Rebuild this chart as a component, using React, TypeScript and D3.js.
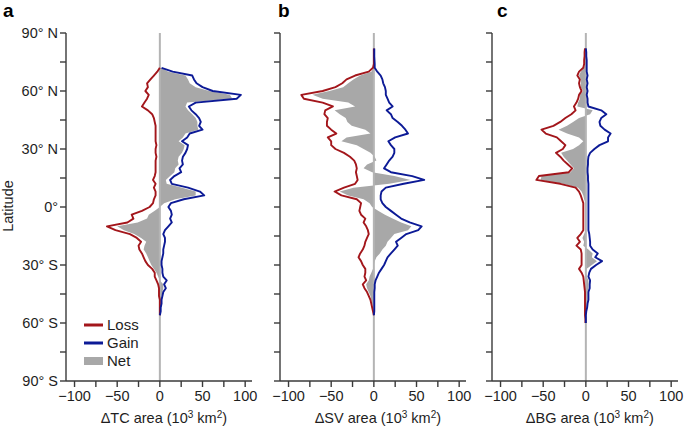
import React from "react";
import * as d3 from "d3";

// ---------- data (10^3 km^2 per latitude band) ----------
const LAT_A = [72,70,68,66,64,62,60,58,56,54,52,50,48,46,44,42,40,38,36,34,32,30,28,26,24,22,20,18,16,14,12,10,8,6,4,2,0,-2,-4,-6,-8,-10,-12,-14,-16,-18,-20,-22,-24,-26,-28,-30,-32,-34,-36,-38,-40,-42,-44,-46,-48,-50,-52,-54,-56];
const LOSS_A = [0,-3,-7,-11,-15,-14,-17,-13,-15,-18,-21,-14,-9,-7,-6,-5,-5,-5,-5,-5,-4,-5,-5,-4,-5,-5,-5,-5,-6,-8,-5,-7,-5,-5,-7,-8,-12,-21,-33,-31,-38,-62,-52,-35,-27,-22,-25,-24,-21,-19,-17,-14,-9,-6,-6,-4,-2,-1,-1,-1,0,0,0,0,0];
const GAIN_A = [2,15,38,40,43,50,62,95,90,42,34,37,42,46,48,46,50,35,32,26,33,32,30,27,26,27,23,25,17,12,14,33,47,52,28,13,10,13,14,12,14,10,6,4,6,6,5,4,4,3,2,2,3,3,4,8,5,7,4,3,2,2,1,1,0];
const NET_A = [1,10,30,33,35,42,58,82,85,32,30,33,38,42,44,44,45,30,27,22,29,28,26,22,21,22,18,17,12,7,8,26,42,42,18,5,0,-6,-13,-15,-26,-50,-42,-30,-22,-16,-18,-19,-16,-14,-12,-10,-7,-4,-2,0,4,4,3,2,1,1,1,0,0];

const LAT_B = [82,78,74,72,70,68,66,64,62,60,58,56,54,52,50,48,46,44,42,40,38,36,34,32,30,28,26,24,22,20,18,16,14,12,10,8,6,4,2,0,-2,-4,-6,-8,-10,-12,-14,-16,-18,-20,-22,-24,-26,-28,-30,-32,-34,-36,-38,-40,-42,-44,-46,-48,-50,-52,-54,-56];
const LOSS_B = [0,0,0,-1,-6,-22,-32,-37,-45,-60,-85,-82,-60,-48,-57,-58,-54,-55,-55,-50,-44,-54,-50,-50,-45,-35,-28,-23,-21,-20,-21,-20,-19,-22,-35,-46,-38,-20,-15,-16,-17,-15,-10,-12,-9,-7,-6,-8,-10,-11,-13,-16,-18,-15,-13,-10,-10,-11,-9,-13,-11,-8,-6,-4,-3,-2,-1,0];
const GAIN_B = [0.5,0.5,1,1,4,8,10,11,13,14,14,16,18,22,15,20,22,28,33,37,40,25,17,20,24,24,22,18,15,12,20,45,59,35,14,9,8,8,10,14,20,26,32,42,56,52,38,32,26,28,24,20,16,14,12,9,6,4,2,1,1,0.5,0.5,0.5,0.5,0.5,0.5,0];
const NET_B = [0,0,0,0,-3,-16,-24,-30,-36,-52,-72,-60,-30,-22,-46,-40,-33,-31,-26,-10,-4,-32,-38,-20,-12,-4,1,3,-8,-12,-2,24,43,18,-24,-40,-30,-12,-5,-2,5,13,22,32,44,40,24,20,16,14,10,7,3,1,0,-1,-3,-5,-6,-9,-8,-6,-4,-3,-2,-1,0,0];

const LAT_C = [82,80,78,76,74,72,70,68,66,64,62,60,58,56,54,52,50,48,46,44,42,40,38,36,34,32,30,28,26,24,22,20,18,16,14,12,10,8,6,4,2,0,-2,-4,-6,-8,-10,-12,-14,-16,-18,-20,-22,-24,-26,-28,-30,-32,-34,-36,-38,-40,-42,-44,-46,-48,-50,-52,-54,-56,-58,-60];
const LOSS_C = [-1,-1.5,-1.5,-2,-2,-3,-8,-10,-7,-8,-7,-5,-8,-9,-11,-14,-12,-17,-24,-30,-38,-52,-47,-34,-29,-24,-27,-35,-30,-26,-21,-16,-20,-55,-58,-30,-12,-8,-6,-4.5,-3,-3,-3,-3,-3,-3,-3,-3,-6,-10,-7,-11,-6,-5,-5,-5,-5,-8,-5,-3,-2.5,-2,-1.5,-1,-1,-1,-1,-1,-1,-1,-0.5,-0.5];
const GAIN_C = [0,0.5,0.5,1,1,1,1,2,1,2,1,2,1,2,2,3,18,24,18,16,17,22,29,26,26,16,10,5,3,2.5,2.5,2,2,2.5,2.5,3,3,3,3,3,3,3,3,3,3,3,3,3,4,4.5,5,5,8,14,11,19,12,6,4,3,5,4.5,4.5,3,3,3,2,1.5,0.5,0,0,0];
const NET_C = [-1,-1,-1,-1,-1,-2,-6,-8,-6,-6,-6,-3,-7,-7,-9,-10,8,5,-8,-15,-22,-32,-22,-8,-3,-8,-15,-29,-26,-22,-18,-14,-18,-52,-53,-27,-9,-5,-3,-2,0,0,0,0,0,0,0,0,-2,-4,-2,-3,3,8,7,13,7,1,0,1,3,3,3,2,2,2,1,0.5,0,0,0,0];

const Y_TICKS = [90,75,60,45,30,15,0,-15,-30,-45,-60,-75,-90];
const Y_LABELS: Record<number,string> = {90:"90° N",60:"60° N",30:"30° N",0:"0°","-30":"30° S","-60":"60° S","-90":"90° S"};
const X_TICKS = [-100,-75,-50,-25,0,25,50,75,100];
const X_LABELS: Record<number,string> = {"-100":"\u2212100","-50":"\u221250",0:"0",50:"50",100:"100"};

const PANELS = [
  { letter: "a", name: "TC", lat: LAT_A, loss: LOSS_A, gain: GAIN_A, net: NET_A, left: 66, letterX: 3 },
  { letter: "b", name: "SV", lat: LAT_B, loss: LOSS_B, gain: GAIN_B, net: NET_B, left: 280, letterX: 278 },
  { letter: "c", name: "BG", lat: LAT_C, loss: LOSS_C, gain: GAIN_C, net: NET_C, left: 492, letterX: 497 },
];

const RED = "#a3161b";
const BLUE = "#0c1a96";
const GREY = "#a8a8a8";
const AXIS = "#3a3a3a";
const TXT = "#1e1e1e";
const FONT = "'Liberation Sans', Arial, Helvetica, sans-serif";
const FS = 14.5;

const y = d3.scaleLinear().domain([90, -90]).range([33, 381]);

function Panel({ p, idx }: { p: typeof PANELS[number]; idx: number }) {
  const x = d3.scaleLinear().domain([-110, 108]).range([p.left, p.left + 186]);
  const pts = p.lat.map((l, i) => ({ lat: l, loss: p.loss[i], gain: p.gain[i], net: p.net[i] }));
  const area = d3.area<typeof pts[number]>().y((d) => y(d.lat)).x0(x(0)).x1((d) => x(d.net));
  const lossLine = d3.line<typeof pts[number]>().y((d) => y(d.lat)).x((d) => x(d.loss));
  const gainLine = d3.line<typeof pts[number]>().y((d) => y(d.lat)).x((d) => x(d.gain));
  const x0 = x(0);
  const bottom = y(-90);
  return (
    <g>
      <text x={p.letterX} y={17} fontFamily={FONT} fontWeight="bold" fontSize={19}>{p.letter}</text>
      <path d={area(pts) || ""} fill={GREY} stroke="none" />
      <line x1={x0} x2={x0} y1={y(90)} y2={bottom} stroke="#b4b4b4" strokeWidth={2} />
      <path d={lossLine(pts) || ""} fill="none" stroke={RED} strokeWidth={1.9} strokeLinejoin="round" />
      <path d={gainLine(pts) || ""} fill="none" stroke={BLUE} strokeWidth={1.9} strokeLinejoin="round" />
      {/* y axis */}
      <line x1={p.left} x2={p.left} y1={y(90)} y2={bottom} stroke={AXIS} strokeWidth={1.4} />
      {Y_TICKS.map((t) => (
        <g key={"y" + t}>
          <line x1={p.left - 6} x2={p.left} y1={y(t)} y2={y(t)} stroke={AXIS} strokeWidth={1.4} />
          {idx === 0 && Y_LABELS[t] !== undefined && (
            <text x={p.left - 8} y={y(t) + 5} textAnchor="end" fontFamily={FONT} fontSize={FS} fill={TXT}>{Y_LABELS[t]}</text>
          )}
        </g>
      ))}
      {/* x axis */}
      <line x1={p.left} x2={p.left + 186} y1={bottom} y2={bottom} stroke={AXIS} strokeWidth={1.4} />
      {X_TICKS.map((t) => (
        <g key={"x" + t}>
          <line x1={x(t)} x2={x(t)} y1={bottom} y2={bottom + 6} stroke={AXIS} strokeWidth={1.4} />
          {X_LABELS[t] !== undefined && (
            <text x={x(t)} y={bottom + 20} textAnchor="middle" fontFamily={FONT} fontSize={FS} fill={TXT}>{X_LABELS[t]}</text>
          )}
        </g>
      ))}
      <text x={x0 + 4} y={423} textAnchor="middle" fontFamily={FONT} fontSize={FS} fill={TXT}>
        {"\u0394" + p.name + " area (10"}
        <tspan dy={-5} fontSize={10}>3</tspan>
        <tspan dy={5}>{" km"}</tspan>
        <tspan dy={-5} fontSize={10}>2</tspan>
        <tspan dy={5}>)</tspan>
      </text>
    </g>
  );
}

export default function App() {
  return (
    <svg width={685} height={428} style={{ position: "absolute", left: 0, top: 0, background: "#fff" }}>
      {PANELS.map((p, i) => (
        <Panel key={p.letter} p={p} idx={i} />
      ))}
      <text transform="translate(13,206) rotate(-90)" textAnchor="middle" fontFamily={FONT} fontSize={FS} fill={TXT}>Latitude</text>
      {/* legend */}
      <line x1={84} x2={103} y1={325} y2={325} stroke={RED} strokeWidth={3} />
      <text x={107} y={330} fontFamily={FONT} fontSize={15} fill={TXT}>Loss</text>
      <line x1={84} x2={103} y1={343} y2={343} stroke={BLUE} strokeWidth={3} />
      <text x={107} y={348} fontFamily={FONT} fontSize={15} fill={TXT}>Gain</text>
      <rect x={84} y={357} width={19} height={8} fill={GREY} />
      <text x={107} y={366} fontFamily={FONT} fontSize={15} fill={TXT}>Net</text>
    </svg>
  );
}
